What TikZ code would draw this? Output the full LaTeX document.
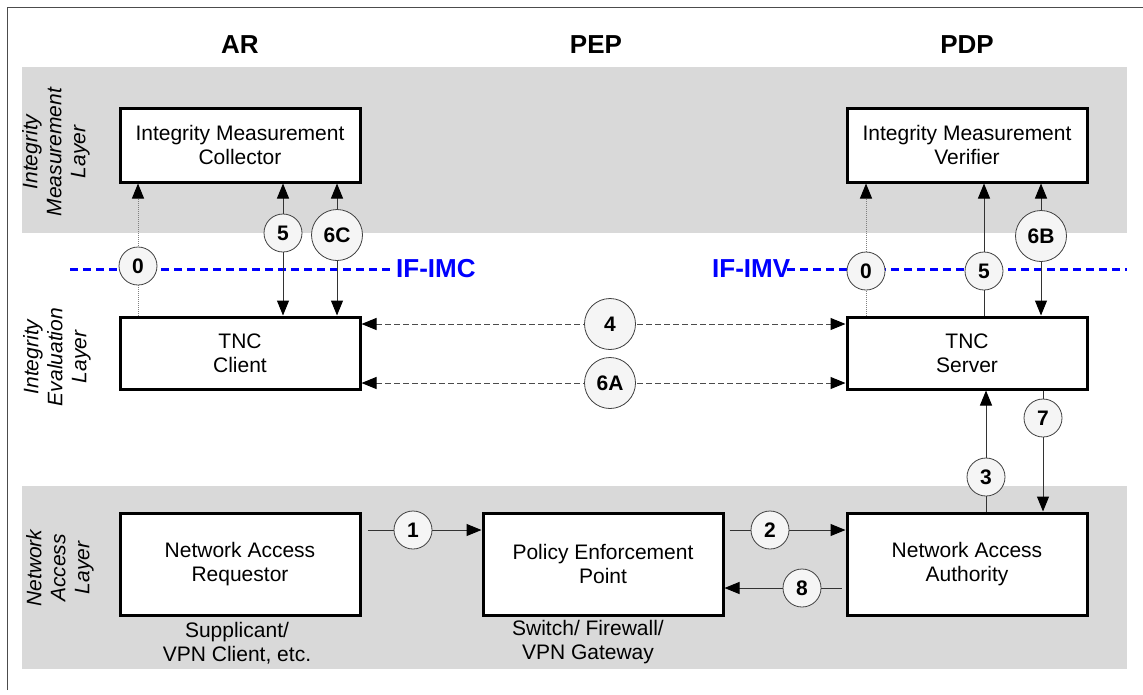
\documentclass[tikz,border=0pt]{standalone}
\usepackage{fontspec}
\setmainfont{Liberation Sans}
\usetikzlibrary{arrows.meta}

\tikzset{
  band/.style={fill=gray!30},
  unit/.style={draw, line width=3pt, minimum width=240pt, align=center, fill=white},
  num/.style={circle, draw=black!75, fill=black!4, line width=0.8pt, inner sep=0pt,
    minimum size=38pt, font=\fontsize{21}{24}\selectfont\bfseries},
  bignum/.style={num, minimum size=51pt},
  title/.style={font=\fontsize{26}{30}\selectfont\bfseries},
  layer/.style={rotate=90, align=center, font=\fontsize{21}{24}\selectfont\itshape},
  flow/.style={draw=black!80, line width=1pt},
  probe/.style={draw=gray, line width=1pt, densely dotted},
  tunnel/.style={draw=gray!60!black, line width=1pt, dash pattern=on 6pt off 3pt},
  ifline/.style={draw=blue, line width=3pt, dash pattern=on 8pt off 5pt},
  iflabel/.style={text=blue, inner sep=0pt, font=\fontsize{26}{30}\selectfont\bfseries},
}

\begin{document}
\begin{tikzpicture}[x=1pt, y=-1pt, >={Triangle[length=15pt, width=12pt, color=black]},
  font=\fontsize{21}{24}\selectfont]
\useasboundingbox (0,0) rectangle (1143,694);

% frame and layer bands
\draw[black!70, line width=1pt] (7,690) -- (7,7) -- (1143,7);
\fill[band] (22,67) rectangle (1127,233);
\fill[band] (22,486) rectangle (1127,669);

% column heads
\node[title] (ar) at (240,45) {AR};
\node[title] (pep) at (596,45) {PEP};
\node[title] (pdp) at (967,45) {PDP};

% layer names
\node[layer] (lmeas) at (56,152) {Integrity\\Measurement\\Layer};
\node[layer] (leval) at (57,357) {Integrity\\Evaluation\\Layer};
\node[layer] (lnet) at (60,568) {Network\\Access\\Layer};

% components
\node[unit, minimum height=74pt] (imc) at (240,145) {Integrity Measurement\\Collector};
\node[unit, minimum height=74pt] (imv) at (967,145) {Integrity Measurement\\Verifier};
\node[unit, minimum height=72pt] (tncc) at (240,353) {TNC\\Client};
\node[unit, minimum height=72pt] (tncs) at (967,353) {TNC\\Server};
\node[unit, minimum height=102pt] (nar) at (240,564) {Network Access\\Requestor};
\node[unit, minimum height=102pt] (pepbox) at (603,564) {Policy Enforcement\\Point};
\node[unit, minimum height=102pt] (naa) at (967,564) {Network Access\\Authority};

\node[align=center] (narsub) at (237,643) {Supplicant/\\VPN Client, etc.};
\node[align=center] (pepsub) at (588,642) {Switch/ Firewall/\\VPN Gateway};

% interfaces
\node[iflabel, anchor=west] (ifimc) at (396,269) {IF-IMC};
\node[iflabel, anchor=west] (ifimv) at (712,269) {IF-IMV};
\coordinate (imcend) at (70,269);
\coordinate (imvend) at (1127,269);
\draw[ifline] (imcend) -- ([xshift=-5pt]ifimc.west);
\draw[ifline] ([xshift=-3pt]ifimv.east) -- (imvend);

% step positions
\coordinate (p0l) at (138,266);
\coordinate (p5l) at (283,233);
\coordinate (p6c) at (337,235);
\coordinate (p0r) at (866,271);
\coordinate (p5r) at (984,271);
\coordinate (p6b) at (1041,236);
\coordinate (p4) at (610,324);
\coordinate (p6a) at (610,383);
\coordinate (p7) at (1043,418);
\coordinate (p3) at (986,477);
\coordinate (p1) at (413,530);
\coordinate (p2) at (770,530);
\coordinate (p8) at (802,588);

% messages
\draw[probe, ->] (tncc.north -| p0l) -- (imc.south -| p0l);
\draw[flow, <->] (imc.south -| p5l) -- (tncc.north -| p5l);
\draw[flow, <->] (imc.south -| p6c) -- (tncc.north -| p6c);
\draw[probe, ->] (tncs.north -| p0r) -- (imv.south -| p0r);
\draw[flow, ->] (tncs.north -| p5r) -- (imv.south -| p5r);
\draw[flow, <->] (imv.south -| p6b) -- (tncs.north -| p6b);
\draw[tunnel, <->] (tncc.east |- p4) -- (tncs.west |- p4);
\draw[tunnel, <->] (tncc.east |- p6a) -- (tncs.west |- p6a);
\draw[flow, ->] (tncs.south -| p7) -- (naa.north -| p7);
\draw[flow, ->] (naa.north -| p3) -- (tncs.south -| p3);
\draw[flow, ->, shorten <=6pt] (nar.east |- p1) -- (pepbox.west |- p1);
\draw[flow, ->, shorten <=5pt] (pepbox.east |- p2) -- (naa.west |- p2);
\draw[flow, ->, shorten <=4pt] (naa.west |- p8) -- (pepbox.east |- p8);

% step numbers
\node[num] (n0l) at (p0l) {0};
\node[num] (n5l) at (p5l) {5};
\node[bignum] (n6c) at (p6c) {6C};
\node[num] (n0r) at (p0r) {0};
\node[num] (n5r) at (p5r) {5};
\node[bignum] (n6b) at (p6b) {6B};
\node[bignum] (n4) at (p4) {4};
\node[bignum] (n6a) at (p6a) {6A};
\node[num] (n7) at (p7) {7};
\node[num] (n3) at (p3) {3};
\node[num] (n1) at (p1) {1};
\node[num] (n2) at (p2) {2};
\node[num] (n8) at (p8) {8};
\end{tikzpicture}
\end{document}
